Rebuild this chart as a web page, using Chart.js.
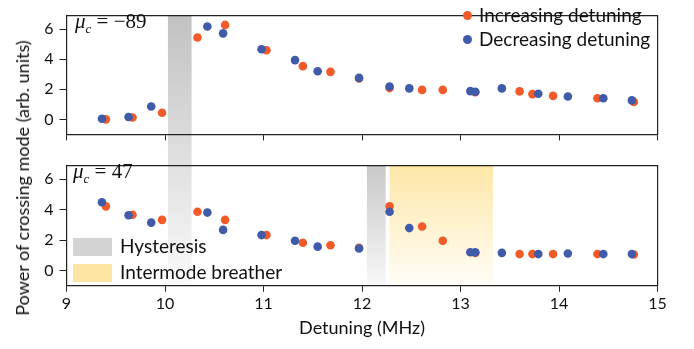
<!DOCTYPE html>
<html>
<head>
<meta charset="utf-8">
<script src="https://cdn.jsdelivr.net/npm/chart.js@4.4.1/dist/chart.umd.min.js"></script>
<style>
  body { margin: 0; background: #fff; }
  #wrap { position: relative; width: 694px; height: 349px; font-family: Lato, sans-serif; color: #111; }
  canvas { position: absolute; left: 0; }
  #cTop { top: 0; }
  #cBot { top: 150px; }
  .mu { position: absolute; font-family: "Liberation Serif", serif; font-size: 21px; white-space: nowrap; }
  .mu sub { font-size: 13px; }
  #yTitle { position: absolute; left: 22px; top: 178px; transform: translate(-50%, -50%) rotate(-90deg); font-size: 18px; white-space: nowrap; }
  .leg { position: absolute; font-size: 19px; white-space: nowrap; }
  .row { height: 24px; line-height: 24px; }
  .dot { display: inline-block; width: 9px; height: 9px; border-radius: 50%; margin-right: 7px; vertical-align: 2px; }
  .patch { display: inline-block; width: 39px; height: 18px; margin-right: 8px; vertical-align: -3px; }
</style>
</head>
<body>
<div id="wrap">
  <canvas id="cTop" width="694" height="150"></canvas>
  <canvas id="cBot" width="694" height="199"></canvas>
  <div class="mu" style="left:75px; top:9px;"><i>μ</i><sub><i>c</i></sub> = −89</div>
  <div class="mu" style="left:73px; top:159px;"><i>μ</i><sub><i>c</i></sub> = 47</div>
  <div id="yTitle">Power of crossing mode (arb. units)</div>
  <div class="leg" id="legTop" style="left:463px; top:3px;"></div>
  <div class="leg" id="legBot" style="left:73px; top:234px;"></div>
</div>
<script>
// data
var xTicks = [9, 10, 11, 12, 13, 14, 15];
var yTicks = [0, 2, 4, 6];

// top panel, mu_c = -89
var topIncX = [9.40, 9.67, 9.97, 10.33, 10.61, 11.03, 11.40, 11.68, 11.97, 12.28, 12.61, 12.82, 13.15, 13.60, 13.73, 13.94, 14.39, 14.76];
var topIncY = [0.00, 0.12, 0.44, 5.44, 6.28, 4.60, 3.54, 3.16, 2.72, 2.08, 1.96, 1.96, 1.80, 1.86, 1.68, 1.56, 1.40, 1.16];
var topDecX = [9.36, 9.63, 9.86, 10.43, 10.59, 10.98, 11.32, 11.55, 11.97, 12.28, 12.48, 13.10, 13.15, 13.42, 13.79, 14.09, 14.45, 14.74];
var topDecY = [0.04, 0.16, 0.86, 6.18, 5.72, 4.66, 3.94, 3.20, 2.76, 2.18, 2.06, 1.88, 1.84, 2.06, 1.70, 1.52, 1.40, 1.26];

// bottom panel, mu_c = 47
var botIncX = [9.40, 9.67, 9.97, 10.33, 10.61, 11.03, 11.40, 11.68, 11.97, 12.28, 12.61, 12.82, 13.15, 13.60, 13.73, 13.94, 14.39, 14.76];
var botIncY = [4.22, 3.67, 3.33, 3.86, 3.33, 2.33, 1.83, 1.66, 1.50, 4.22, 2.89, 1.96, 1.15, 1.08, 1.08, 1.08, 1.08, 1.05];
var botDecX = [9.36, 9.63, 9.86, 10.43, 10.59, 10.98, 11.32, 11.55, 11.97, 12.28, 12.48, 13.10, 13.15, 13.42, 13.79, 14.09, 14.45, 14.74];
var botDecY = [4.49, 3.63, 3.15, 3.81, 2.67, 2.33, 1.96, 1.57, 1.45, 3.86, 2.79, 1.20, 1.20, 1.16, 1.08, 1.12, 1.08, 1.08];

// shaded regions (MHz)
var hysteresis1 = [10.03, 10.27];
var hysteresis2 = [12.05, 12.24];
var breather = [12.28, 13.33];

var ORANGE = '#f15a29';
var BLUE = '#3f5ba9';
var GREY = '#d3d3d3';
var YELLOW = '#fde6a4';
var AXIS = '#222';

function pts(xs, ys){
    var out = [];
    for(var i = 0; i < xs.length; i++) out.push({x: xs[i], y: ys[i]});
    return out;
}

// gradient bands, page coords for the gradient so the first band runs on between panels
var bandPlugin = {
    id: 'bands',
    beforeDraw: function(chart, args, opts){
        var ctx = chart.ctx, xs = chart.scales.x, area = chart.chartArea;
        opts.list.forEach(function(b){
            var x0 = xs.getPixelForValue(b.range[0]);
            var x1 = xs.getPixelForValue(b.range[1]);
            var y0 = b.toTop ? 0 : area.top;
            var y1 = b.toBottom ? chart.height : area.bottom;
            var g = ctx.createLinearGradient(0, b.g0 - opts.offset, 0, b.g1 - opts.offset);
            g.addColorStop(0, b.c0);
            g.addColorStop(1, b.c1);
            ctx.save();
            ctx.fillStyle = g;
            ctx.fillRect(x0, y0, x1 - x0, y1 - y0);
            ctx.restore();
        });
    }
};

function makeChart(id, inc, dec, bottom, bands, offset){
    var canvasH = document.getElementById(id).height;
    var ctx = document.getElementById(id);
    return new Chart(ctx, {
        type: 'scatter',
        data: {
            datasets: [
                {label: 'Increasing detuning', data: inc, backgroundColor: ORANGE, borderWidth: 0, pointRadius: 4.3, order: 1},
                {label: 'Decreasing detuning', data: dec, backgroundColor: BLUE, borderWidth: 0, pointRadius: 4.3, order: 0}
            ]
        },
        options: {
            responsive: false,
            animation: false,
            events: [],
            layout: {padding: 0},
            plugins: {
                legend: {display: false},
                tooltip: {enabled: false},
                bands: {list: bands, offset: offset}
            },
            scales: {
                x: {
                    type: 'linear', position: 'bottom', min: 9, max: 15,
                    afterBuildTicks: function(s){ s.ticks = xTicks.map(function(v){ return {value: v}; }); },
                    afterFit: function(s){ s.height = bottom ? canvasH - 135.7 : canvasH - 135; },
                    grid: {drawOnChartArea: false, drawTicks: true, tickLength: 6, color: AXIS},
                    border: {color: AXIS, width: 1.2},
                    ticks: {display: bottom, color: '#111', font: {family: 'Lato', size: 16}, padding: 3, maxRotation: 0},
                    title: {display: bottom, text: 'Detuning (MHz)', color: '#111', font: {family: 'Lato', size: 18}, padding: {top: 0, bottom: 10}}
                },
                x2: {
                    type: 'linear', position: 'top', min: 9, max: 15,
                    afterFit: function(s){ s.height = bottom ? 4 : 3; },
                    grid: {display: false},
                    border: {color: AXIS, width: 1.2},
                    ticks: {display: false}
                },
                y: {
                    type: 'linear', position: 'left', min: -1, max: 6.9,
                    afterBuildTicks: function(s){ s.ticks = yTicks.map(function(v){ return {value: v}; }); },
                    afterFit: function(s){ s.width = 66.5; },
                    grid: {drawOnChartArea: false, drawTicks: true, tickLength: 7, color: AXIS},
                    border: {color: AXIS, width: 1.2},
                    ticks: {color: '#111', font: {family: 'Lato', size: 16}, padding: 6}
                },
                y2: {
                    type: 'linear', position: 'right', min: -1, max: 6.9,
                    afterFit: function(s){ s.width = 36.5; },
                    grid: {display: false},
                    border: {color: AXIS, width: 1.2},
                    ticks: {display: false}
                }
            }
        },
        plugins: [bandPlugin]
    });
}

makeChart('cTop', pts(topIncX, topIncY), pts(topDecX, topDecY), false, [
    {range: hysteresis1, toBottom: true, g0: 3, g1: 286, c0: '#bfbfbf', c1: '#fafafa'}
], 0);

makeChart('cBot', pts(botIncX, botIncY), pts(botDecX, botDecY), true, [
    {range: hysteresis1, toTop: true, g0: 3, g1: 286, c0: '#bfbfbf', c1: '#fafafa'},
    {range: hysteresis2, g0: 154, g1: 286, c0: '#c4c4c4', c1: '#f8f8f8'},
    {range: breather, g0: 154, g1: 286, c0: '#fde5a0', c1: '#fffdf7'}
], 150);

// legends
document.getElementById('legTop').innerHTML =
    '<div class="row"><span class="dot" style="background:' + ORANGE + '"></span>Increasing detuning</div>' +
    '<div class="row"><span class="dot" style="background:' + BLUE + '"></span>Decreasing detuning</div>';
document.getElementById('legBot').innerHTML =
    '<div class="row" style="height:26px"><span class="patch" style="background:' + GREY + '"></span>Hysteresis</div>' +
    '<div class="row" style="height:26px"><span class="patch" style="background:' + YELLOW + '"></span>Intermode breather</div>';
</script>
</body>
</html>
